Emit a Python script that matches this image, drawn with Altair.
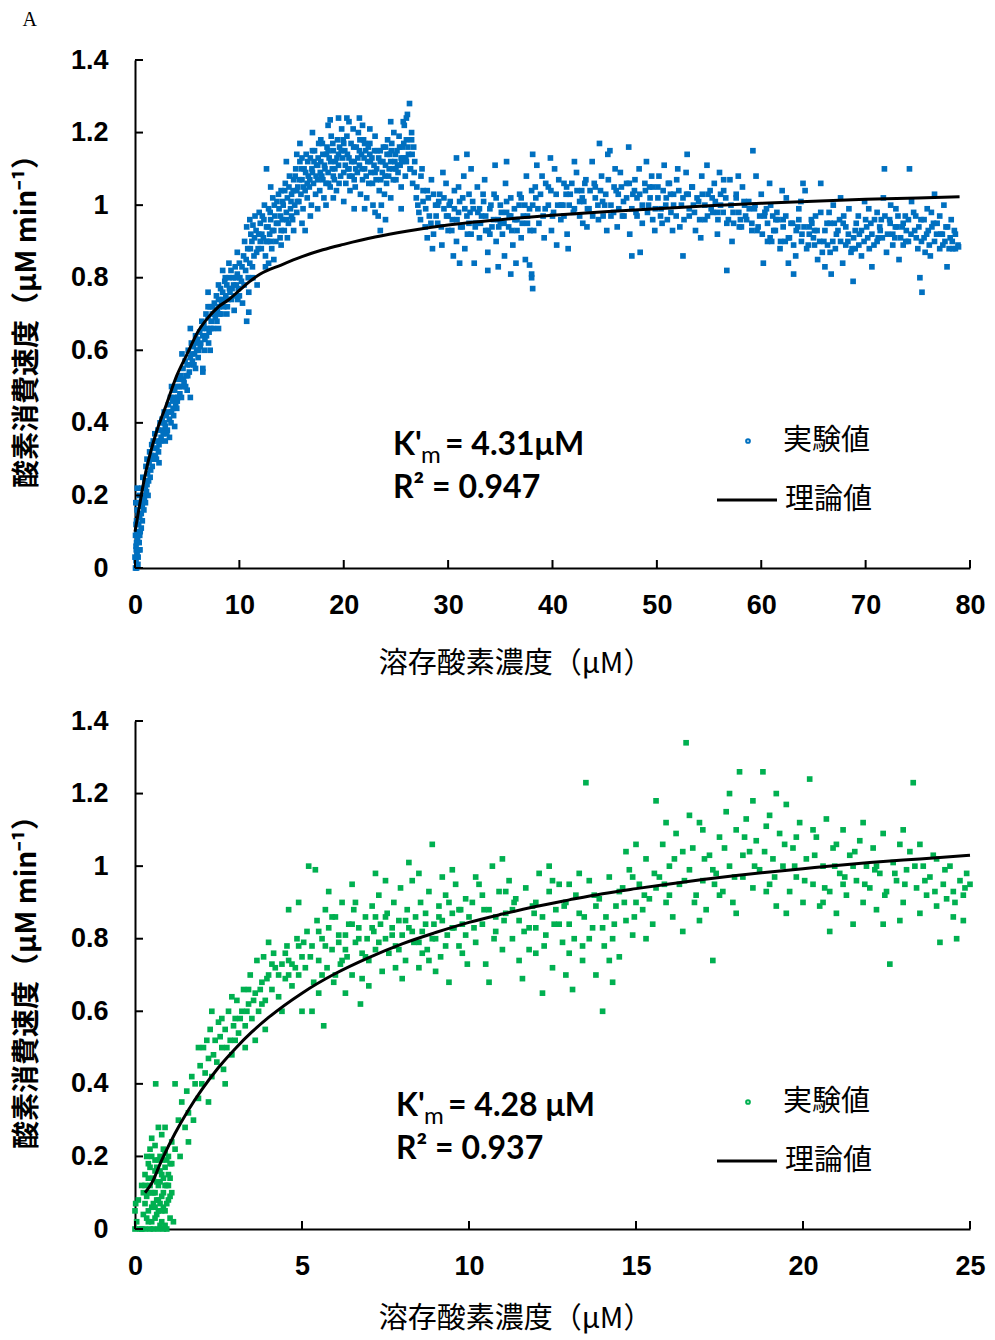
import altair as alt
import pandas as pd

# ---------------- data ----------------
TOP_SEG_1 = [(0.05,0.0),(0.1,0.02),(0.15,0.0),(0.2,0.04),(0.1,0.06),(0.25,0.08),(0.3,0.03),(0.2,0.1),(0.35,0.12),(0.4,0.07),
             (0.3,0.15),(0.45,0.14),(0.5,0.1),(0.15,0.13),(0.55,0.18),(0.6,0.15),(0.4,0.2),(0.7,0.17),(0.65,0.22),(0.8,0.2),
             (0.75,0.25),(0.9,0.19),(0.95,0.24),(1.0,0.22),(1.05,0.28),(1.1,0.21),(1.2,0.26),(1.15,0.3),(1.3,0.24),(1.35,0.29),
             (1.4,0.32),(1.5,0.27),(1.55,0.31),(1.6,0.34),(1.7,0.3),(1.75,0.35),(1.8,0.33),(1.9,0.37),(1.95,0.31),(2.0,0.35),
             (0.05,0.09),(0.1,0.12),(0.2,0.16),(0.0,0.03),(0.12,0.05),(0.28,0.01),(0.33,0.18),(0.48,0.05),(0.08,0.18),(0.22,0.22)]
TOP_SEG_2 = [(2.1,0.33),(2.2,0.38),(2.3,0.34),(2.4,0.4),(2.5,0.36),(2.6,0.41),(2.7,0.37),(2.8,0.43),(2.9,0.39),(3.0,0.42),
             (3.1,0.38),(3.2,0.45),(3.3,0.41),(3.4,0.47),(3.5,0.43),(3.6,0.46),(3.7,0.42),(3.8,0.49),(3.9,0.45),(4.0,0.5),
             (4.1,0.47),(4.2,0.52),(4.3,0.48),(4.4,0.53),(4.5,0.5),(4.6,0.55),(4.7,0.51),(4.8,0.57),(4.9,0.53),(5.0,0.56),
             (5.1,0.6),(5.2,0.54),(5.3,0.58),(5.4,0.62),(5.5,0.57),(5.6,0.61),(5.7,0.59),(5.8,0.64),(5.9,0.6),(6.0,0.63),
             (2.3,0.29),(2.9,0.35),(3.3,0.36),(3.5,0.5),(4.0,0.44),(4.5,0.59),(5.0,0.49),(5.3,0.66),(5.8,0.55),(3.8,0.39),
             (5.3,0.47),(6.5,0.54)]
TOP_SEG_3 = [(6.1,0.6),(6.2,0.65),(6.3,0.62),(6.4,0.68),(6.5,0.64),(6.6,0.67),(6.7,0.63),(6.8,0.7),(6.9,0.66),(7.0,0.69),
             (7.1,0.65),(7.2,0.72),(7.3,0.68),(7.4,0.7),(7.5,0.66),(7.6,0.73),(7.7,0.69),(7.8,0.75),(7.9,0.71),(8.0,0.74),
             (8.1,0.7),(8.2,0.77),(8.3,0.73),(8.4,0.76),(8.5,0.72),(8.6,0.79),(8.7,0.75),(8.8,0.78),(8.9,0.74),(9.0,0.8),
             (9.1,0.76),(9.2,0.82),(9.3,0.77),(9.4,0.8),(9.5,0.75),(9.6,0.83),(9.7,0.78),(9.8,0.81),(9.9,0.77),(10.0,0.84),
             (10.2,0.79),(10.4,0.86),(10.6,0.82),(10.8,0.88),(11.0,0.84),(11.2,0.9),(11.4,0.86),(11.6,0.93),(11.8,0.88),(12.0,0.95),
             (6.5,0.55),(7.2,0.6),(8.0,0.66),(8.8,0.7),(9.5,0.71),(10.3,0.73),(10.9,0.76),(11.3,0.8),(11.7,0.78),(7.0,0.76),
             (8.4,0.82),(9.8,0.87),(11.0,0.96),(11.5,0.97),(10.7,0.94),(11.3,0.945),(10.7,0.68),(10.9,0.705)]
TOP_SEG_4 = [(12.1,0.88),(12.2,0.97),(12.3,0.91),(12.4,1.0),(12.5,0.86),(12.6,0.94),(12.7,0.9),(12.8,0.99),(12.9,0.92),(13.0,0.96),
             (13.1,0.88),(13.2,1.02),(13.3,0.93),(13.4,0.97),(13.5,0.9),(13.6,1.01),(13.7,0.95),(13.8,0.99),(13.9,0.91),(14.0,1.04),
             (14.1,0.96),(14.2,1.0),(14.3,0.93),(14.4,1.06),(14.5,0.98),(14.6,1.02),(14.7,0.95),(14.8,1.08),(14.9,0.99),(15.0,1.03),
             (15.1,0.96),(15.2,1.07),(15.3,1.0),(15.4,1.1),(15.5,0.98),(15.6,1.05),(15.7,1.01),(15.8,1.12),(15.9,1.03),(16.0,1.07),
             (16.1,0.99),(16.2,1.1),(16.3,1.04),(16.4,1.14),(16.5,1.02),(16.6,1.08),(16.7,1.05),(16.8,1.13),(16.9,1.0),(17.0,1.09),
             (17.1,1.06),(17.2,1.15),(17.3,1.03),(17.4,1.11),(17.5,1.07),(17.6,1.17),(17.7,1.04),(17.8,1.12),(17.9,1.08),(18.0,1.14),
             (18.1,1.02),(18.2,1.1),(18.3,1.06),(18.4,1.16),(18.5,1.09),(18.6,1.13),(18.7,1.05),(18.8,1.19),(18.9,1.1),(19.0,1.15),
             (19.1,1.07),(19.2,1.12),(19.3,1.04),(19.4,1.18),(19.5,1.11),(19.6,1.16),(19.7,1.08),(19.8,1.21),(19.9,1.13),(20.0,1.09),
             (12.5,0.83),(13.3,0.85),(14.0,0.89),(14.6,0.91),(15.2,0.93),(16.0,0.95),(16.8,0.97),(17.5,0.99),(18.3,1.0),(19.0,1.02),
             (13.0,1.05),(14.5,1.12),(15.8,1.17),(17.0,1.2),(18.5,1.22),(19.5,1.24),(12.8,0.84),(15.5,1.14),(16.3,0.93),(17.8,1.18),
             (12.6,1.1),(18.7,1.235)]
TOP_SEG_5 = [(20.1,1.15),(20.2,1.06),(20.3,1.19),(20.4,1.1),(20.5,1.13),(20.6,1.04),(20.7,1.17),(20.8,1.08),(20.9,1.21),(21.0,1.12),
             (21.1,1.05),(21.2,1.16),(21.3,1.09),(21.4,1.2),(21.5,1.11),(21.6,1.03),(21.7,1.14),(21.8,1.07),(21.9,1.18),(22.0,1.1),
             (22.1,1.15),(22.2,1.02),(22.3,1.12),(22.4,1.06),(22.5,1.17),(22.6,1.09),(22.7,1.13),(22.8,1.0),(22.9,1.11),(23.0,0.98),
             (23.1,1.07),(23.2,1.15),(23.3,0.97),(23.4,1.04),(23.5,1.12),(23.6,1.0),(23.7,1.09),(23.8,1.16),(23.9,1.03),(24.0,1.11),
             (24.1,1.06),(24.2,1.18),(24.3,1.08),(24.4,1.14),(24.5,1.02),(24.6,1.17),(24.7,1.1),(24.8,1.2),(24.9,1.12),(25.0,1.07),
             (25.1,1.15),(25.2,1.09),(25.3,1.19),(25.4,1.11),(25.5,1.05),(25.6,1.16),(25.7,1.13),(25.8,1.22),(25.9,1.08),(26.0,1.18),
             (26.1,1.25),(26.2,1.14),(26.3,1.28),(26.4,1.1),(26.5,1.2),(26.6,1.06),(26.7,1.16),(26.8,1.12),
             (20.5,1.23),(21.5,1.24),(22.0,0.99),(23.5,0.93),(24.0,0.96),(21.0,0.99),(22.5,1.21),(23.0,1.19),(24.5,1.23),(25.5,0.99),
             (20.0,1.01),(21.8,1.22),(20.3,1.24),(26.0,1.24),(25.7,1.23)]
TOP_SEG_6 = [(27.0,1.05),(27.2,0.98),(27.4,1.08),(27.6,1.01),(27.8,0.94),(28.0,1.04),(28.2,0.97),(28.4,1.07),(28.6,0.92),(28.8,1.0),
             (29.0,0.95),(29.2,1.03),(29.4,0.89),(29.6,0.99),(29.8,1.06),(30.0,0.93),(30.2,1.01),(30.4,0.96),(30.6,1.04),(30.8,0.9),
             (31.0,0.98),(31.2,0.94),(31.4,1.02),(31.6,0.88),(31.8,0.97),(32.0,1.03),(32.2,0.92),(32.4,0.99),(32.6,0.95),(32.8,1.05),
             (33.0,0.91),(33.2,0.97),(33.4,1.01),(33.6,0.93),(33.8,0.87),(34.0,0.99),(34.2,0.94),(34.4,1.03),(34.6,0.9),(34.8,0.96),
             (35.0,1.0),(35.2,0.92),(35.4,0.86),(35.6,0.98),(35.8,0.94),(36.0,1.02),(36.2,0.89),(36.4,0.96),(36.6,0.93),(36.8,1.0),
             (37.0,0.91),(37.2,0.97),(37.4,0.85),(37.6,0.95),(37.8,0.99),(38.0,0.8),(38.1,0.77),(38.2,0.93),
             (27.5,1.1),(28.5,0.88),(29.5,1.09),(30.5,0.86),(31.5,1.08),(32.5,0.84),(33.5,1.07),(34.5,1.11),(35.5,1.06),(36.5,0.84),
             (37.5,1.08),(29.0,1.0),(30.0,0.97),(31.0,1.05),(32.0,0.95),(33.0,0.99),(34.0,0.92),(35.0,0.95),(36.0,0.97),(37.0,1.02),
             (38.0,1.04),(28.0,0.91),(30.8,1.13),(32.2,1.1),(34.8,0.83),(36.0,0.81),
             (31.8,1.14),(35.6,1.12),(38.1,1.14),(33.8,0.82),(31.1,0.84),(37.8,0.835),(38.0,0.81)]
TOP_SEG_7 = [(38.4,1.02),(38.7,0.95),(39.0,1.08),(39.3,0.99),(39.6,1.05),(39.9,0.93),(40.2,1.1),(40.5,1.0),(40.8,0.96),(41.1,1.06),
             (41.4,0.92),(41.7,1.03),(42.0,0.98),(42.3,1.09),(42.6,1.01),(42.9,0.95),(43.2,1.07),(43.5,0.99),(43.8,1.12),(44.1,1.02),
             (44.4,0.96),(44.7,1.08),(45.0,1.0),(45.3,1.14),(45.6,0.97),(45.9,1.05),(46.2,0.94),(46.5,1.09),(46.8,1.01),(47.1,1.06),
             (47.4,0.92),(47.7,1.03),(48.0,0.98),(48.3,1.1),(48.6,0.95),(48.9,1.04),(49.2,1.0),(49.5,1.08),(49.8,0.93),(50.1,1.05),
             (50.4,0.99),(50.7,1.11),(51.0,0.96),(51.3,1.03),(51.6,1.0),(51.9,1.07),(52.2,0.94),(52.5,1.02),(52.8,1.09),(53.1,0.97),
             (53.4,1.05),(53.7,0.93),(54.0,1.01),(54.3,1.08),(54.6,0.96),(54.9,1.03),(55.2,0.99),(55.5,1.06),(55.8,0.92),(56.1,1.0),
             (56.4,1.04),(56.7,0.95),(57.0,1.07),(57.3,0.98),(57.6,1.02),(57.9,0.94),(58.2,1.05),(58.5,0.97),(58.8,1.01),(59.1,0.93),
             (38.5,1.11),(39.2,0.91),(39.8,1.13),(40.4,0.89),(41.0,1.0),(41.5,0.88),(42.1,1.12),(42.8,1.04),(43.3,0.94),(44.0,1.06),
             (44.5,1.17),(45.2,0.93),(45.5,1.15),(46.0,1.1),(46.7,0.97),(47.3,1.16),(47.6,0.86),(48.1,1.02),(48.4,0.87),(49.0,1.12),
             (49.6,0.96),(50.2,1.08),(50.9,1.02),(51.5,0.93),(52.0,1.1),(52.5,0.86),(52.9,1.14),(53.5,1.0),(54.2,0.91),(54.8,1.11),
             (55.3,1.02),(56.0,1.09),(56.7,0.82),(57.2,0.9),(57.8,1.08),(58.4,1.0),(59.2,1.15),(41.3,1.03),(43.0,1.01),(46.3,1.03),
             (50.5,0.95),(53.0,1.03),(55.8,0.98),(58.0,0.96),(40.0,0.97),(44.8,1.01),(49.3,1.05),(51.2,1.06),(56.4,1.07),(47.9,1.07)]
TOP_SEG_8 = [(59.4,1.0),(59.7,0.94),(60.0,1.03),(60.3,0.97),(60.6,0.9),(60.9,1.0),(61.2,0.93),(61.5,0.98),(61.8,0.88),(62.1,0.96),
             (62.4,1.02),(62.7,0.91),(63.0,0.95),(63.3,0.86),(63.6,0.99),(63.9,0.92),(64.2,1.04),(64.5,0.89),(64.8,0.96),(65.1,0.93),
             (65.4,0.85),(65.7,0.98),(66.0,0.9),(66.3,0.95),(66.6,0.87),(66.9,1.0),(67.2,0.92),(67.5,0.96),(67.8,0.84),(68.1,0.94),
             (68.4,0.99),(68.7,0.88),(69.0,0.93),(69.3,0.97),(69.6,0.86),(69.9,1.01),(70.2,0.91),(70.5,0.95),(70.8,0.89),(71.1,0.98),
             (71.4,0.93),(71.7,1.02),(72.0,0.87),(72.3,0.96),(72.6,0.92),(72.9,0.99),(73.2,0.85),(73.5,0.94),(73.8,0.97),(74.1,0.9),
             (74.4,1.01),(74.7,0.93),(75.0,0.88),(75.3,0.96),(75.6,0.91),(75.9,0.99),(76.2,0.86),(76.5,0.95),(76.8,0.92),(77.1,0.97),
             (77.4,0.89),(77.7,0.94),(78.0,0.88),(78.3,0.9),(78.6,0.88),(78.9,0.885),
             (59.5,1.08),(60.2,0.84),(60.8,1.06),(61.4,0.96),(62.0,1.04),(62.6,0.84),(63.1,0.81),(63.8,1.01),(64.0,1.06),(64.6,0.94),
             (65.2,0.97),(65.7,1.06),(66.1,0.83),(66.7,0.81),(67.0,0.95),(67.6,1.02),(68.3,0.9),(68.8,0.79),(69.4,0.92),(70.0,0.96),
             (70.6,0.83),(71.2,0.91),(71.8,1.1),(72.4,1.0),(73.0,0.94),(73.6,0.89),(74.2,1.1),(74.8,0.97),(75.2,0.8),(75.4,0.76),
             (76.0,0.93),(76.6,1.03),(77.2,0.92),(77.8,0.83),(78.2,0.96),(61.0,0.9),(63.5,0.94),(66.5,0.98),(69.0,0.88),(71.5,0.96),
             (73.9,0.93),(76.3,0.98),(78.5,0.93),(60.5,0.99),(62.3,0.9),(65.0,0.91),(67.9,0.97),(70.3,0.99),(72.8,0.91),(75.7,0.87),
             (77.5,1.0)]
TOP_SEG_9 = [(12.15,0.92),(12.35,0.96),(12.55,0.9),(12.75,0.94),(12.95,0.98),(13.15,0.93),(13.35,1.0),(13.55,0.95),(13.75,1.03),(13.95,0.97),
             (14.15,1.01),(14.35,1.04),(14.55,0.96),(14.75,1.05),(14.95,1.01),(15.15,1.04),(15.35,1.08),(15.55,1.01),(15.75,1.07),(15.95,1.1),
             (16.15,1.05),(16.35,1.09),(16.55,1.12),(16.75,1.07),(16.95,1.1),(17.15,1.12),(17.35,1.08),(17.55,1.13),(17.75,1.09),(17.95,1.17),
             (18.15,1.11),(18.35,1.14),(18.55,1.06),(18.75,1.12),(18.95,1.17),(19.15,1.1),(19.35,1.13),(19.55,1.06),(19.75,1.15),(19.95,1.18),
             (20.15,1.11),(20.35,1.14),(20.55,1.08),(20.75,1.12),(20.95,1.16),(21.15,1.1),(21.35,1.13),(21.55,1.18),(21.75,1.1),(21.95,1.13),
             (22.15,1.08),(22.35,1.16),(22.55,1.12),(22.75,1.06),(22.95,1.15),(23.15,1.1),(23.35,1.13),(23.55,1.07),(23.75,1.12),(23.95,1.08),
             (24.15,1.14),(24.35,1.1),(24.55,1.15),(24.75,1.07),(24.95,1.14),(25.15,1.11),(25.35,1.16),(25.55,1.12),(25.75,1.17),(25.95,1.13),
             (26.15,1.16),(26.35,1.1),(26.55,1.14),(26.75,1.09),(26.95,1.02),(16.0,1.13),(17.0,1.15),(18.0,1.07),(19.0,1.08),(20.0,1.17),
             (21.0,1.07),(22.0,1.17),(23.0,1.09),(24.0,1.16),(25.0,1.1),(26.0,1.12),(14.0,0.93),(15.0,0.97),(13.0,0.9),(15.5,1.04),
             (16.5,1.06),(17.5,1.11),(18.5,1.15),(19.5,1.14),(20.5,1.1),(21.5,1.15),(22.5,1.14),(23.5,1.15),(24.5,1.12),(25.5,1.13),
             (26.5,1.18)]
TOP_SEG_10 = [(27.1,1.0),(27.35,0.96),(27.6,1.04),(27.85,0.99),(28.1,1.02),(28.35,0.95),(28.6,1.03),(28.85,0.97),(29.1,1.01),(29.35,0.94),
              (29.6,1.02),(29.85,0.97),(30.1,1.0),(30.35,0.93),(30.6,0.99),(30.85,0.96),(31.1,1.01),(31.35,0.94),(31.6,0.99),(31.85,0.92),
              (32.1,0.98),(32.35,1.01),(32.6,0.94),(32.85,0.98),(33.1,0.95),(33.35,1.03),(33.6,0.97),(33.85,0.93),(34.1,1.0),(34.35,0.96),
              (34.6,1.02),(34.85,0.94),(35.1,0.98),(35.35,0.95),(35.6,1.01),(35.85,0.97),(36.1,0.93),(36.35,0.99),(36.6,0.96),(36.85,1.03),
              (37.1,0.95),(37.35,1.0),(37.6,0.97),(37.85,0.93),(38.1,1.0),(38.35,1.05),(38.6,0.99),(38.85,1.03),(39.1,0.97),(39.35,1.06),
              (39.6,1.0),(39.85,1.04),(40.1,0.98),(40.35,1.03),(40.6,1.07),(40.85,1.0),(41.1,0.97),(41.35,1.05),(41.6,1.0),(41.85,1.06),
              (42.1,0.99),(42.35,1.04),(42.6,0.97),(42.85,1.02),(43.1,1.06),(43.35,0.99),(43.6,1.04),(43.85,0.97),(44.1,1.05),(44.35,1.0),
              (44.6,1.04),(44.85,0.97),(45.1,1.03),(45.35,1.07),(45.6,1.0),(45.85,0.98),(46.1,1.04),(46.35,0.99),(46.6,1.05),(46.85,0.97),
              (47.1,1.02),(47.35,1.06),(47.6,0.99),(47.85,1.04),(48.1,0.97),(48.35,1.03),(48.6,1.0),(48.85,1.06),(49.1,0.98),(49.35,1.02),
              (49.6,1.05),(49.85,0.99),(50.1,1.02),(50.35,0.97),(50.6,1.04),(50.85,1.0),(51.1,1.06),(51.35,0.98),(51.6,1.03),(51.85,0.97),
              (52.1,1.04),(52.35,1.0),(52.6,0.96),(52.85,1.03),(53.1,0.99),(53.35,1.05),(53.6,0.98),(53.85,1.02),(54.1,0.96),(54.35,1.03),
              (54.6,1.0),(54.85,0.97),(55.1,1.04),(55.35,0.98),(55.6,1.01),(55.85,0.96),(56.1,1.03),(56.35,0.98),(56.6,1.02),(56.85,0.96),
              (57.1,1.0),(57.35,0.95),(57.6,1.03),(57.85,0.98),(58.1,0.94),(58.35,1.01),(58.6,0.96),(58.85,0.99),(59.1,0.95),(59.35,0.99),
              (59.6,0.93),(59.85,0.97),(60.1,0.92),(60.35,0.98),(60.6,0.95),(60.85,0.91),(61.1,0.97),(61.35,0.93),(61.6,0.96),(61.85,0.9),
              (62.1,0.94),(62.35,0.97),(62.6,0.91),(62.85,0.95),(63.1,0.89),(63.35,0.93),(63.6,0.96),(63.85,0.9),(64.1,0.94),(64.35,0.88),
              (64.6,0.92),(64.85,0.95),(65.1,0.89),(65.35,0.93),(65.6,0.9),(65.85,0.87),(66.1,0.93),(66.35,0.89),(66.6,0.95),(66.85,0.9),
              (67.1,0.88),(67.35,0.93),(67.6,0.9),(67.85,0.95),(68.1,0.89),(68.35,0.92),(68.6,0.87),(68.85,0.91),(69.1,0.95),(69.35,0.89),
              (69.6,0.93),(69.85,0.9),(70.1,0.94),(70.35,0.88),(70.6,0.92),(70.85,0.96),(71.1,0.9),(71.35,0.94),(71.6,0.91),(71.85,0.97),
              (72.1,0.92),(72.35,0.95),(72.6,0.89),(72.85,0.94),(73.1,0.97),(73.35,0.91),(73.6,0.95),(73.85,0.9),(74.1,0.96),(74.35,0.92),
              (74.6,0.98),(74.85,0.91),(75.1,0.94),(75.35,0.9),(75.6,0.96),(75.85,0.92),(76.1,0.89),(76.35,0.94),(76.6,0.9),(76.85,0.95),
              (77.1,0.88),(77.35,0.92),(77.6,0.9),(77.85,0.94),(78.1,0.91),(78.35,0.88),(78.6,0.92),(78.85,0.89)]
TOP_SEG_11 = [(0.15,0.07),(0.35,0.05),(0.45,0.09),(0.6,0.11),(0.7,0.13),(0.85,0.16),(1.0,0.18),(1.15,0.23),(1.25,0.2),(1.45,0.25),
              (1.65,0.28),(1.85,0.3),(2.05,0.3),(2.25,0.32),(2.45,0.35),(2.65,0.38),(2.85,0.4),(3.05,0.37),(3.25,0.43),(3.45,0.4),
              (3.65,0.44),(3.85,0.47),(4.05,0.46),(4.25,0.5),(4.45,0.47),(4.65,0.52),(4.85,0.5),(5.05,0.53),(5.25,0.56),(5.45,0.59),
              (5.65,0.56),(5.85,0.62),(6.05,0.58),(6.25,0.61),(6.45,0.66),(6.65,0.6),(6.85,0.64),(7.05,0.62),(7.25,0.66),(7.45,0.72),
              (7.65,0.7),(7.85,0.68),(8.05,0.72),(8.25,0.7),(8.45,0.74),(8.65,0.8),(8.85,0.72),(9.05,0.77),(9.25,0.74),(9.45,0.78),
              (9.65,0.8),(9.85,0.74),(10.05,0.8),(10.25,0.83),(10.45,0.78),(10.65,0.85),(10.85,0.8),(11.05,0.88),(11.25,0.83),(11.45,0.91),
              (11.65,0.87),(11.85,0.92),(12.0,0.9),(10.0,0.75),(10.5,0.9),(11.1,0.92),(11.9,0.98),(9.0,0.84),(8.0,0.78),(7.0,0.72)]

TOP_CURVE_X = [0, 0.3, 0.6, 1.0, 1.5, 2, 3, 4, 5, 6, 7, 8, 9, 10, 11, 12, 14, 16, 18, 20, 23, 26, 30,
               35, 40, 45, 50, 55, 60, 65, 70, 75, 79]
TOP_CURVE_Y = [0.1, 0.15, 0.2, 0.26, 0.32, 0.37, 0.45, 0.53, 0.59, 0.65, 0.69, 0.72, 0.74, 0.765, 0.79, 0.81,
               0.835, 0.858, 0.877, 0.892, 0.912, 0.928, 0.945, 0.96, 0.972, 0.982, 0.99, 0.998, 1.005, 1.011,
               1.016, 1.02, 1.023]

BOT_SEG_1 = [(0.0,0.05),(0.05,0.02),(0.1,0.08),(0.15,0.0),(0.2,0.12),(0.25,0.04),(0.3,0.15),(0.3,0.0),(0.35,0.09),(0.4,0.18),
             (0.4,0.02),(0.45,0.12),(0.5,0.06),(0.5,0.2),(0.55,0.14),(0.55,0.0),(0.6,0.1),(0.6,0.23),(0.65,0.04),(0.65,0.17),
             (0.7,0.12),(0.7,0.0),(0.75,0.2),(0.75,0.07),(0.8,0.15),(0.8,0.02),(0.85,0.1),(0.85,0.22),(0.9,0.05),(0.9,0.17),
             (0.95,0.12),(0.95,0.0),(1.0,0.08),(1.0,0.2),(1.05,0.14),(1.05,0.03),(1.1,0.1),(1.1,0.24),(0.3,0.07),(0.35,0.2),
             (0.45,0.0),(0.5,0.1),(0.6,0.16),(0.65,0.08),(0.7,0.19),(0.75,0.13),(0.8,0.09),(0.85,0.0),(0.9,0.12),(1.0,0.15),
             (0.4,0.1),(0.55,0.07),(0.7,0.05),(0.85,0.06),(0.95,0.19),(1.05,0.09),(0.25,0.1),(0.35,0.03),(0.45,0.17),(0.6,0.03),
             (0.5,0.25),(0.62,0.4),(0.8,0.26),(0.9,0.28),(0.7,0.28),(0.0,0.0),(0.02,0.07),(0.2,0.0),(1.15,0.02),(1.1,0.18)]
BOT_SEG_2 = [(1.2,0.22),(1.3,0.3),(1.35,0.2),(1.4,0.35),(1.5,0.28),(1.55,0.38),(1.6,0.32),(1.7,0.42),(1.75,0.3),(1.8,0.4),
             (1.9,0.36),(1.95,0.45),(2.0,0.4),(2.05,0.5),(2.1,0.43),(2.2,0.47),(2.25,0.55),(2.3,0.42),(2.4,0.52),(2.45,0.46),
             (2.5,0.57),(2.6,0.5),(2.65,0.44),(2.7,0.55),(2.8,0.6),(2.85,0.52),(2.9,0.48),(3.0,0.58),(3.05,0.63),(3.1,0.54),
             (3.2,0.6),(3.25,0.66),(3.3,0.56),(3.4,0.62),(3.45,0.7),(3.5,0.58),(3.6,0.65),(3.65,0.74),(3.7,0.6),(3.8,0.68),
             (3.85,0.75),(3.9,0.63),(4.0,0.7),(4.1,0.66),(4.15,0.76),(4.2,0.72),(4.3,0.64),(4.4,0.73),(4.5,0.69),(4.55,0.78),
             (4.6,0.74),(4.7,0.67),(4.8,0.72),(4.85,0.8),(4.9,0.7),(5.0,0.75),(1.6,0.24),(2.2,0.35),(2.7,0.4),(3.3,0.5),
             (3.9,0.55),(4.4,0.6),(2.9,0.64),(4.6,0.88),(4.9,0.9),(1.2,0.4),(5.0,0.6),(4.0,0.79),(3.6,0.52),(2.3,0.6),(1.9,0.5)]
BOT_SEG_3 = [(5.1,0.72),(5.15,0.82),(5.2,1.0),(5.3,0.78),(5.35,0.68),(5.4,0.99),(5.45,0.85),(5.5,0.74),(5.6,0.8),(5.65,0.56),
             (5.7,0.88),(5.75,0.72),(5.8,0.83),(5.9,0.77),(5.95,0.68),(6.0,0.86),(6.1,0.79),(6.15,0.73),(6.2,0.9),(6.3,0.81),
             (6.35,0.75),(6.4,0.84),(6.5,0.7),(6.55,0.88),(6.6,0.79),(6.7,0.83),(6.75,0.62),(6.8,0.76),(6.9,0.86),(6.95,0.8),
             (7.0,0.74),(7.1,0.89),(7.15,0.82),(7.2,0.77),(7.3,0.92),(7.35,0.84),(7.4,0.71),(7.5,0.8),(7.55,0.87),(7.6,0.76),
             (7.7,0.83),(7.75,0.9),(7.8,0.78),(7.9,0.85),(7.95,0.94),(8.0,0.81),(8.1,0.74),(8.15,0.88),(8.2,0.83),(8.3,0.96),
             (8.35,0.79),(8.4,0.86),(8.5,0.72),(8.55,0.9),(8.6,0.82),(8.7,0.87),(8.75,0.77),(8.8,0.93),(8.9,1.06),(8.95,0.84),
             (9.0,0.8),(9.1,0.89),(9.15,0.75),(9.2,0.85),(9.3,0.92),(9.35,0.81),(9.4,0.68),(9.5,0.87),(9.55,0.83),(9.6,0.95),
             (9.7,0.78),(9.75,0.88),(9.8,0.84),(9.9,0.91),(9.95,0.73),(10.0,0.86),
             (5.5,0.65),(6.0,0.7),(6.5,0.95),(7.0,0.67),(7.5,0.96),(8.0,0.69),(8.5,0.98),(9.0,0.71),(9.5,0.99),(5.8,0.93),
             (6.8,0.69),(7.8,0.72),(8.8,0.74),(9.8,0.76),(6.3,0.65),(7.2,0.98),(8.2,1.01),(9.2,0.97),(5.3,0.6),(6.6,0.9)]
BOT_SEG_4 = [(10.1,0.9),(10.2,0.79),(10.3,0.95),(10.4,0.84),(10.5,0.73),(10.6,0.88),(10.7,1.0),(10.8,0.82),(10.9,0.93),(11.0,0.77),
             (11.1,0.87),(11.2,0.96),(11.3,0.8),(11.4,0.91),(11.5,0.85),(11.6,0.69),(11.7,0.94),(11.8,0.83),(11.9,0.89),(12.0,0.76),
             (12.1,0.98),(12.2,0.86),(12.3,0.81),(12.4,0.93),(12.5,0.72),(12.6,0.88),(12.7,0.95),(12.8,0.79),(12.9,0.9),(13.0,0.84),
             (13.1,0.66),(13.2,0.92),(13.3,0.87),(13.4,0.78),(13.5,1.23),(13.6,0.96),(13.7,0.83),(13.8,0.7),(13.9,0.91),(14.0,0.6),
             (14.1,0.86),(14.2,0.97),(14.3,0.8),(14.4,0.89),(14.5,0.75),(14.6,0.94),(14.7,0.85),(14.8,0.99),(14.9,0.81),(15.0,0.9),
             (10.2,0.97),(10.6,0.68),(11.0,1.02),(11.5,0.74),(12.0,0.9),(12.4,1.0),(12.9,0.7),(13.3,0.98),(13.8,0.89),(14.3,0.68),
             (14.7,1.04),(10.4,0.92),(11.3,0.88),(12.2,0.65),(13.0,0.95),(13.6,0.8),(14.5,0.93),(10.8,0.86),(11.8,0.77),(12.7,0.84),
             (14.0,0.83),(14.9,0.97),(13.4,0.74),(11.1,0.93),(12.5,0.96)]
BOT_SEG_5 = [(15.1,0.95),(15.2,0.88),(15.3,1.02),(15.4,0.91),(15.5,0.84),(15.6,1.18),(15.7,0.97),(15.8,1.06),(15.9,0.9),(16.0,1.0),
             (16.1,0.86),(16.2,1.09),(16.3,0.95),(16.4,0.82),(16.5,1.34),(16.6,0.99),(16.7,1.05),(16.8,0.92),(16.9,1.12),(17.0,0.96),
             (17.1,0.88),(17.2,1.03),(17.3,0.74),(17.4,0.98),(17.5,1.08),(17.6,0.93),(17.7,1.15),(17.8,1.0),(17.9,0.9),(18.0,1.1),
             (18.1,1.26),(18.2,0.97),(18.3,1.13),(18.4,1.04),(18.5,0.94),(18.6,1.07),(18.7,0.99),(18.8,1.26),(18.9,1.11),(19.0,0.95),
             (19.1,1.02),(19.2,0.89),(19.3,1.09),(19.4,1.0),(19.5,1.17),(19.6,0.93),(19.7,1.05),(19.8,0.97),(19.9,1.12),(20.0,0.9),
             (15.3,0.8),(15.9,1.12),(16.4,1.04),(16.9,0.85),(17.5,0.92),(18.0,0.87),(18.5,1.18),(19.0,1.14),(19.5,0.87),(15.0,1.06),
             (16.0,0.92),(17.0,1.1),(18.2,1.03),(19.2,1.2),(17.8,1.2),(16.6,1.14),(18.9,0.93),(15.6,0.94),(17.3,0.99),(19.8,1.08)]
BOT_SEG_6 = [(20.1,1.02),(20.2,1.24),(20.3,0.95),(20.4,1.08),(20.5,0.89),(20.6,1.0),(20.7,1.13),(20.8,0.93),(20.9,1.05),(21.0,0.87),
             (21.1,0.98),(21.2,1.1),(21.3,0.92),(21.4,1.03),(21.5,0.84),(21.6,0.96),(21.7,1.07),(21.8,0.9),(21.9,1.0),(22.0,0.94),
             (22.1,1.05),(22.2,0.88),(22.3,0.98),(22.4,1.09),(22.5,0.93),(22.6,0.73),(22.7,1.01),(22.8,0.96),(22.9,1.06),(23.0,0.9),
             (23.1,0.99),(23.2,1.04),(23.3,1.23),(23.4,0.94),(23.5,0.87),(23.6,1.0),(23.7,0.92),(23.8,0.97),(23.9,1.03),(24.0,0.89),
             (24.1,0.79),(24.2,0.95),(24.3,0.91),(24.4,1.0),(24.5,0.86),(24.6,0.8),(24.7,0.96),(24.8,0.92),(24.9,0.98),(25.0,0.95),
             (20.3,1.1),(20.8,0.82),(21.2,0.95),(21.8,1.12),(22.2,1.0),(22.9,0.85),(23.5,1.06),(24.0,1.02),(24.5,0.93),(20.6,0.9),
             (21.5,1.0),(23.0,1.1),(24.8,0.85),(22.4,0.84),(21.0,1.06)]
BOT_SEG_7 = [(0.3,0.12),(0.4,0.05),(0.45,0.22),(0.55,0.1),(0.6,0.19),(0.65,0.13),(0.7,0.08),(0.75,0.16),(0.8,0.05),(0.85,0.14),
             (0.9,0.21),(0.95,0.07),(1.0,0.12),(1.05,0.18),(0.5,0.02),(0.75,0.01),(0.9,0.01),(0.4,0.14),(0.6,0.06),(0.8,0.19),
             (2.15,0.52),(2.35,0.48),(2.55,0.53),(2.75,0.5),(2.95,0.56),(3.15,0.58),(3.35,0.6),(3.55,0.63),(3.75,0.66),(3.95,0.69),
             (4.1,0.73),(4.3,0.7),(4.5,0.76),(4.7,0.73),(4.9,0.78),(3.0,0.52),(3.8,0.62),(4.6,0.7),(2.6,0.58),(3.4,0.66),
             (5.05,0.79),(5.25,0.75),(5.5,0.82),(5.7,0.78),(5.9,0.86),(6.1,0.81),(6.3,0.77),(6.5,0.84),(6.7,0.8),(6.9,0.75),
             (7.1,0.83),(7.3,0.79),(7.5,0.86),(7.7,0.81),(7.9,0.77),(8.1,0.85),(8.3,0.82),(8.5,0.79),(8.7,0.84),(8.9,0.8),
             (9.1,0.86),(9.3,0.78),(9.5,0.83),(9.7,0.88),(9.9,0.81),(5.6,0.7),(6.2,0.74),(7.2,0.86),(8.6,0.76),(9.4,0.9),
             (10.15,0.83),(10.45,0.88),(10.75,0.8),(11.05,0.85),(11.35,0.9),(11.65,0.82),(11.95,0.87),(12.25,0.78),(12.55,0.84),(12.85,0.89),
             (13.15,0.8),(13.45,0.86),(13.75,0.92),(14.05,0.78),(14.35,0.84),(14.65,0.9),(14.95,0.86),(12.0,0.83),(13.0,0.76),(14.2,0.74),
             (15.25,0.92),(15.55,0.98),(15.85,0.95),(16.15,1.02),(16.45,0.96),(16.75,0.9),(17.05,1.02),(17.35,0.95),(17.65,1.05),(17.95,0.97),
             (18.25,1.08),(18.55,1.0),(18.85,1.04),(19.15,0.97),(19.45,1.06),(19.75,1.0),(20.05,0.96),(20.35,1.03),(20.65,0.94),(20.95,1.0),
             (21.25,0.97),(21.55,1.04),(21.85,0.95),(22.15,0.99),(22.45,0.92),(22.75,0.98),(23.05,0.95),(23.35,1.0),(23.65,0.96),(23.95,0.93),
             (24.25,0.99),(24.55,0.9),(24.85,0.94)]

BOT_CURVE_X = [0.3, 0.5, 0.8, 1.2, 1.6, 2, 2.5, 3, 3.5, 4, 5, 6, 7, 8, 9, 10, 11, 12, 13, 14, 15,
               16, 17, 18, 19, 20, 21, 22, 23, 24, 25]
BOT_CURVE_Y = [0.1, 0.126, 0.19, 0.264, 0.328, 0.384, 0.445, 0.497, 0.543, 0.583, 0.65, 0.704, 0.748, 0.786,
               0.817, 0.845, 0.868, 0.889, 0.907, 0.924, 0.938, 0.951, 0.963, 0.974, 0.984, 0.993, 1.002, 1.01,
               1.017, 1.023, 1.03]

X_TICKS_TOP = [0, 10, 20, 30, 40, 50, 60, 70, 80]
X_TICKS_BOT = [0, 5, 10, 15, 20, 25]
Y_TICKS = [0, 0.2, 0.4, 0.6, 0.8, 1.0, 1.2, 1.4]
X_TITLE = "溶存酸素濃度（μM）"
Y_TITLE = "酸素消費速度（μM min⁻¹）"
LEGEND_LABELS = ["実験値", "理論値"]
TOP_KM = ["K'", "m", "= 4.31μM"]
BOT_KM = ["K'", "m", "= 4.28 μM"]
TOP_R2 = "R² = 0.947"
BOT_R2 = "R² = 0.937"
PANEL_LABEL = "A"

BLUE = "#0070C0"
GREEN = "#00B050"
W, H = 835, 508
CJK = "Noto Sans CJK JP"


def one_text(label, x, y, size, weight="bold", font="Lato", align="left", baseline="alphabetic"):
    return alt.Chart(pd.DataFrame({"t": [label]})).mark_text(
        font=font, fontSize=size, fontWeight=weight, align=align, baseline=baseline, color="black"
    ).encode(text="t:N", x=alt.value(x), y=alt.value(y))


def panel(segments, cx, cy, xmax, xticks, color, km, r2, kx, xtitle_pad):
    pts = pd.DataFrame([p for seg in segments for p in seg], columns=["x", "y"])
    curve = pd.DataFrame({"x": cx, "y": cy})
    xs = alt.Scale(domain=[0, xmax], nice=False, zero=True)
    ys = alt.Scale(domain=[0, 1.4], nice=False, zero=True)
    common = dict(grid=False, ticks=False, domainColor="black", domainWidth=2,
                  labelFont="Liberation Sans", labelFontWeight="bold", labelFontSize=27,
                  labelColor="black", labelFlush=False, labelOverlap=False,
                  titleFont=CJK, titleColor="black")
    xax = alt.Axis(values=xticks, title=X_TITLE, format="d", titleFontWeight="normal", titleFontSize=29,
                   titleX=380, titleAlign="center",
                   labelPadding=24, titlePadding=xtitle_pad, **common)
    yax = alt.Axis(values=Y_TICKS, title=Y_TITLE, format=".1~f", titleFontWeight="bold", titleFontSize=28,
                   labelPadding=27, titlePadding=29, **common)
    X = alt.X("x:Q", scale=xs, axis=xax)
    Y = alt.Y("y:Q", scale=ys, axis=yax)

    p = alt.Chart(pts).mark_square(size=32, color=color, opacity=1, filled=True).encode(x=X, y=Y)
    c = alt.Chart(curve).mark_line(color="black", strokeWidth=3, interpolate="monotone").encode(x=X, y=Y)
    xt = alt.Chart(pd.DataFrame({"x": xticks})).mark_rule(color="black", strokeWidth=2).encode(
        x=X, y=alt.value(H - 8), y2=alt.value(H))
    yt = alt.Chart(pd.DataFrame({"y": Y_TICKS})).mark_rule(color="black", strokeWidth=2).encode(
        y=Y, x=alt.value(0), x2=alt.value(8))

    k1 = one_text(km[0], kx, 395, 32)
    k2 = one_text(km[1], kx + 28, 403, 24, weight="normal")
    k3 = one_text(km[2], kx + 52, 395, 32)
    r = one_text(r2, kx, 438, 32)

    lm = alt.Chart(pd.DataFrame({"t": [LEGEND_LABELS[0]]})).mark_point(
        shape="circle", filled=False, color=color, strokeWidth=2, size=14, opacity=1
    ).encode(x=alt.value(613), y=alt.value(381))
    lt1 = one_text(LEGEND_LABELS[0], 648, 381, 29, weight="normal", font=CJK, baseline="middle")
    ll = alt.Chart(pd.DataFrame({"t": [LEGEND_LABELS[1]]})).mark_rule(color="black", strokeWidth=3).encode(
        x=alt.value(582), x2=alt.value(642), y=alt.value(440))
    lt2 = one_text(LEGEND_LABELS[1], 650, 440, 29, weight="normal", font=CJK, baseline="middle")

    return alt.layer(p, c, xt, yt, k1, k2, k3, r, lm, lt1, ll, lt2).properties(width=W, height=H)


top = panel([TOP_SEG_1, TOP_SEG_2, TOP_SEG_3, TOP_SEG_4, TOP_SEG_5, TOP_SEG_6, TOP_SEG_7, TOP_SEG_8,
             TOP_SEG_9, TOP_SEG_10, TOP_SEG_11],
            TOP_CURVE_X, TOP_CURVE_Y, 80, X_TICKS_TOP, BLUE, TOP_KM, TOP_R2, 258, 31).properties(
    title=alt.TitleParams(PANEL_LABEL, anchor="start", frame="bounds", font="Liberation Serif",
                          fontSize=20, fontWeight="normal", color="black", dx=9, offset=16))
bottom = panel([BOT_SEG_1, BOT_SEG_2, BOT_SEG_3, BOT_SEG_4, BOT_SEG_5, BOT_SEG_6, BOT_SEG_7],
               BOT_CURVE_X, BOT_CURVE_Y, 25, X_TICKS_BOT, GREEN, BOT_KM, BOT_R2, 261, 25)

chart = alt.vconcat(top, bottom, spacing=29).properties(
    padding={"left": 13, "top": 10, "right": 5, "bottom": 6},
    background="white",
).configure_view(stroke=None)

chart.save("out.html", embed_options={"renderer": "svg", "actions": False})
